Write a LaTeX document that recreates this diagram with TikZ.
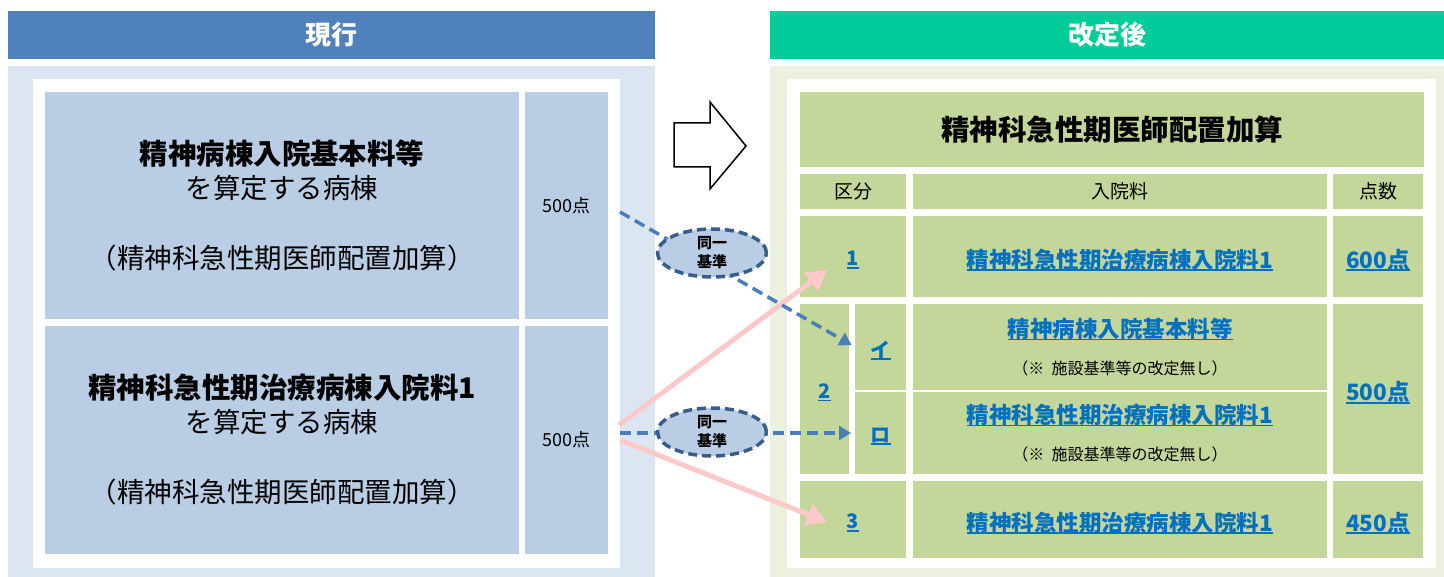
\documentclass[tikz,border=0pt]{standalone}
\usepackage{fontspec}
\setmainfont{Noto Sans CJK JP}
\usetikzlibrary{arrows.meta,shapes.geometric}
\definecolor{hdrL}{HTML}{4F81BD}
\definecolor{hdrR}{HTML}{00CC99}
\definecolor{panL}{HTML}{DCE6F2}
\definecolor{panR}{HTML}{EBF1DE}
\definecolor{boxL}{HTML}{B9CDE5}
\definecolor{cellR}{HTML}{C4D79B}
\definecolor{linkB}{HTML}{0070C0}
\definecolor{dashB}{HTML}{4A7EBB}
\definecolor{ellB}{HTML}{385D8A}
\definecolor{pinkA}{HTML}{FFC9C9}
\newcommand\ulk[1]{\setbox0\hbox{#1}\leavevmode\rlap{\rule[-3pt]{\wd0}{1.8pt}}\box0}
\newcommand\ulkd[1]{\raisebox{-3.5pt}[\height][\depth]{\ulk{#1}}}
\newcommand\notetxt[1]{{\fontsize{16}{19}\selectfont\mdseries\color{black}#1}}
\newcommand\bigb[1]{{\fontsize{28.5}{33}\selectfont\bfseries #1}}
\tikzset{
  base/.style={inner sep=0pt, outer sep=0pt, anchor=north west, align=center},
  hdr/.style={base, text=white, font=\fontsize{26}{30}\selectfont\bfseries},
  lbox/.style={base, fill=boxL, font=\fontsize{27.5}{34}\selectfont},
  lpts/.style={base, fill=boxL, font=\fontsize{18}{22}\selectfont},
  rcell/.style={base, fill=cellR},
  rhead/.style={rcell, font=\fontsize{19}{22}\selectfont},
  rlink/.style={rcell, text=linkB, font=\fontsize{22.5}{26}\selectfont\bfseries},
  rnum/.style={rcell, text=linkB, font=\fontsize{20}{24}\selectfont\bfseries},
  ell/.style={ellipse, fill=boxL, draw=ellB, line width=3.5pt, dash pattern=on 9pt off 5pt,
     minimum width=109pt, minimum height=48pt, inner sep=0pt, align=center,
     font=\fontsize{15}{19}\selectfont\bfseries},
  dasharrow/.style={draw=dashB, line width=3.5pt, dash pattern=on 11pt off 6pt,
     -{Triangle[length=12pt,width=14pt]}},
  pinkarrow/.style={draw=pinkA, line width=5pt, -{Triangle[length=20pt,width=22pt]}},
}
\begin{document}
\begin{tikzpicture}[x=1pt,y=-1pt]
\useasboundingbox (0,0) rectangle (1444,577);
% headers
\node[hdr, fill=hdrL, minimum width=647pt, minimum height=48pt] (hL) at (8,11) {現行};
\node[hdr, fill=hdrR, minimum width=674pt, minimum height=48pt] (hR) at (770,11) {改定後};
% panels
\fill[panL] (8,66) rectangle (655,577);
\fill[white] (33,79) rectangle (620,568);
\fill[panR] (770,66) rectangle (1444,577);
\fill[white] (787,79) rectangle (1436,568);
% left boxes
\node[lbox, minimum width=474pt, minimum height=227pt] (lt) at (45,92)
  {\bigb{精神病棟入院基本料等}\\を算定する病棟\\[36pt]（精神科急性期医師配置加算）};
\node[lpts, minimum width=83pt, minimum height=227pt] (lt5) at (525,92) {500点};
\node[lbox, minimum width=474pt, minimum height=228pt] (lb) at (45,326)
  {\bigb{精神科急性期治療病棟入院料1}\\を算定する病棟\\[36pt]（精神科急性期医師配置加算）};
\node[lpts, minimum width=83pt, minimum height=228pt] (lb5) at (525,326) {500点};
% hollow arrow
\draw[line width=1.5pt, fill=white] (674,123) -- (710,123) -- (710,102) -- (746,146)
  -- (710,189) -- (710,167) -- (674,167) -- cycle;
% right table
\node[rcell, minimum width=624pt, minimum height=75pt, font=\fontsize{28.5}{32}\selectfont\bfseries] (title) at (800,92) {精神科急性期医師配置加算};
\node[rhead, minimum width=106pt, minimum height=35pt] (hk) at (800,174) {区分};
\node[rhead, minimum width=414pt, minimum height=35pt] (hn) at (913,174) {入院料};
\node[rhead, minimum width=90pt, minimum height=35pt] (hp) at (1333,174) {点数};
% row 1
\node[rnum, minimum width=106pt, minimum height=81pt] (k1) at (800,216) {\ulkd{1}};
\node[rlink, minimum width=414pt, minimum height=81pt] (n1) at (913,216) {\ulkd{精神科急性期治療病棟入院料1}};
\node[rlink, minimum width=90pt, minimum height=81pt] (p1) at (1333,216) {\ulkd{600点}};
% row 2
\node[rnum, minimum width=49pt, minimum height=170pt] (k2) at (800,304) {\ulkd{2}};
\node[rnum, minimum width=51pt, minimum height=86pt] (k2i) at (855,304) {\ulkd{イ}};
\node[rnum, minimum width=51pt, minimum height=82pt] (k2r) at (855,392) {\ulkd{ロ}};
\node[rlink, minimum width=414pt, minimum height=86pt] (n2i) at (913,304)
  {\ulk{精神病棟入院基本料等}\\[11pt]\notetxt{（※\ \ 施設基準等の改定無し）}};
\node[rlink, minimum width=414pt, minimum height=82pt] (n2r) at (913,392)
  {\ulk{精神科急性期治療病棟入院料1}\\[11pt]\notetxt{（※\ \ 施設基準等の改定無し）}};
\node[rlink, minimum width=90pt, minimum height=170pt] (p2) at (1333,304) {\ulkd{500点}};
% row 3
\node[rnum, minimum width=106pt, minimum height=77pt] (k3) at (800,481) {\ulkd{3}};
\node[rlink, minimum width=414pt, minimum height=77pt] (n3) at (913,481) {\ulkd{精神科急性期治療病棟入院料1}};
\node[rlink, minimum width=90pt, minimum height=77pt] (p3) at (1333,481) {\ulkd{450点}};
% connector end points
\coordinate (sA) at (620,212);
\coordinate (sB) at (620,433);
\coordinate (sP1) at (619,425);
\coordinate (sP3) at (620,440);
\coordinate (tP1) at (827,270);
\coordinate (tP3) at (827,522);
% pink arrows
\draw[pinkarrow] (sP1) -- (tP1);
\draw[pinkarrow] (sP3) -- (tP3);
% dashed arrows
\draw[dasharrow, shorten >=4pt] (sA) -- (k2i.west);
\draw[dasharrow, shorten >=4pt] (sB) -- (sB -| k2r.west);
% ellipses
\node[ell] (e1) at (712,253) {同一\\基準};
\node[ell] (e2) at (712,432) {同一\\基準};
\end{tikzpicture}
\end{document}
